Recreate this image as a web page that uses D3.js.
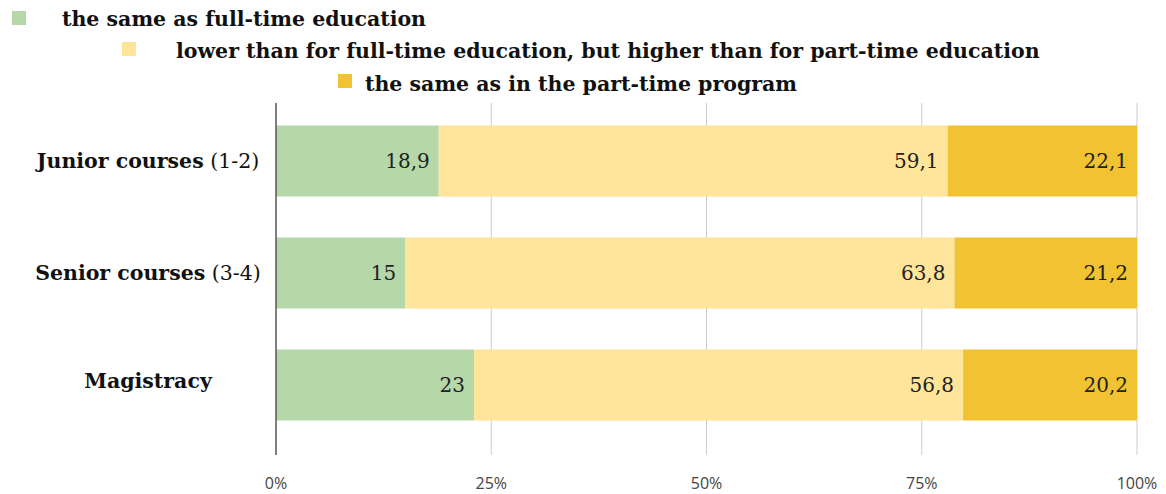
<!DOCTYPE html>
<meta charset="utf-8">
<title>Stacked bars</title>
<script src="https://d3js.org/d3.v7.min.js"></script>
<style>
  body { margin: 0; background: #fff; }
</style>
<div id="chart"></div>
<script>
// data
var groups = ["Junior courses", "Senior courses", "Magistracy"];
var groupNotes = ["(1-2)", "(3-4)", ""];
var seriesNames = [
  "the same as full-time education",
  "lower than for full-time education, but higher than for part-time education",
  "the same as in the part-time program"
];
var sameFull = [18.9, 15, 23];
var lowerFull = [59.1, 63.8, 56.8];
var samePart = [22.1, 21.2, 20.2];
var valueLabels = [
  ["18,9", "15", "23"],
  ["59,1", "63,8", "56,8"],
  ["22,1", "21,2", "20,2"]
];
var tickValues = [0, 25, 50, 75, 100];
var colors = ["#b6d7a8", "#ffe599", "#f1c232"];

var width = 1166, height = 494;

var svg = d3.select("#chart").append("svg")
  .attr("width", width)
  .attr("height", height);

var x = d3.scaleLinear().domain([0, 100]).range([276, 1137]);
var y = d3.scaleBand().domain(groups).range([105, 441]).paddingInner(0.366).paddingOuter(0.183);

// rows for d3.stack
var table = groups.map(function(g, i) {
  return { group: g, s0: sameFull[i], s1: lowerFull[i], s2: samePart[i] };
});
var stack = d3.stack().keys(["s0", "s1", "s2"]);
var layers = stack(table);

// gridlines
svg.append("g")
  .selectAll("line")
  .data(tickValues.slice(1))
  .enter().append("line")
  .attr("x1", function(d) { return x(d); })
  .attr("x2", function(d) { return x(d); })
  .attr("y1", 103)
  .attr("y2", 455)
  .style("stroke", "#cccccc")
  .style("stroke-width", 1);

// bars
var layer = svg.append("g").selectAll("g")
  .data(layers)
  .enter().append("g")
  .style("fill", function(d, i) { return colors[i]; });

layer.selectAll("rect")
  .data(function(d) { return d; })
  .enter().append("rect")
  .attr("x", function(d) { return x(d[0]); })
  .attr("width", function(d) { return x(Math.min(d[1], 100)) - x(d[0]); })
  .attr("y", function(d) { return y(d.data.group); })
  .attr("height", y.bandwidth());

// value labels, right aligned inside each segment
layers.forEach(function(l, k) {
  svg.append("g").selectAll("text")
    .data(l)
    .enter().append("text")
    .attr("x", function(d) { return x(Math.min(d[1], 100)) - 9; })
    .attr("y", function(d) { return y(d.data.group) + y.bandwidth() / 2 + 7; })
    .attr("text-anchor", "end")
    .style("font-family", "'DejaVu Serif', Georgia, serif")
    .style("font-size", "20px")
    .style("fill", "#222")
    .text(function(d, i) { return valueLabels[k][i]; });
});

// left axis line
svg.append("line")
  .attr("x1", x(0)).attr("x2", x(0))
  .attr("y1", 103).attr("y2", 455)
  .style("stroke", "#555")
  .style("stroke-width", 1.5);

// category labels
var cat = svg.append("g").selectAll("text")
  .data(groups)
  .enter().append("text")
  .attr("x", 148)
  .attr("y", function(d, i) { return y(d) + y.bandwidth() / 2 + (i == 2 ? 3 : 7); })
  .attr("text-anchor", "middle")
  .style("font-family", "'DejaVu Serif', Georgia, serif")
  .style("font-size", "20.5px")
  .style("fill", "#111");
cat.append("tspan")
  .style("font-weight", "bold")
  .text(function(d) { return d; });
cat.append("tspan")
  .text(function(d, i) { return groupNotes[i] ? " " + groupNotes[i] : ""; });

// x tick labels
svg.append("g").selectAll("text")
  .data(tickValues)
  .enter().append("text")
  .attr("x", function(d) { return x(d); })
  .attr("y", 489)
  .attr("text-anchor", "middle")
  .style("font-family", "'Open Sans', 'Liberation Sans', sans-serif")
  .style("font-size", "16px")
  .style("fill", "#444")
  .text(function(d) { return d + "%"; });

// legend, staggered
var legendPos = [
  { sx: 12, sy: 11, tx: 62, ty: 26 },
  { sx: 122, sy: 42, tx: 176, ty: 58 },
  { sx: 338, sy: 74, tx: 365, ty: 91 }
];
var legend = svg.append("g").selectAll("g")
  .data(seriesNames)
  .enter().append("g");
legend.append("rect")
  .attr("x", function(d, i) { return legendPos[i].sx; })
  .attr("y", function(d, i) { return legendPos[i].sy; })
  .attr("width", 14)
  .attr("height", 14)
  .style("fill", function(d, i) { return colors[i]; });
legend.append("text")
  .attr("x", function(d, i) { return legendPos[i].tx; })
  .attr("y", function(d, i) { return legendPos[i].ty; })
  .style("font-family", "'DejaVu Serif', Georgia, serif")
  .style("font-weight", "bold")
  .style("font-size", "20.5px")
  .style("fill", "#111")
  .text(function(d) { return d; });
</script>
